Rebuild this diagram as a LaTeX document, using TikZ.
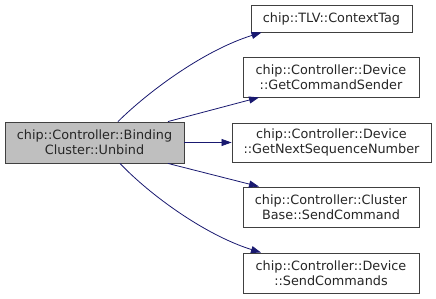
\documentclass[tikz,border=0pt]{standalone}
\usepackage{fontspec}
\setmainfont{DejaVu Sans}
\usetikzlibrary{arrows.meta}
\definecolor{edgeblue}{HTML}{191970}
\definecolor{boxgrey}{HTML}{BFBFBF}
\definecolor{boxline}{HTML}{404040}
\tikzset{
  fn/.style={draw=boxline, line width=0.9pt, fill=white, align=center, inner sep=0pt,
    font=\fontsize{12.8}{15}\selectfont, text=black!85},
  focus/.style={fn, fill=boxgrey},
  call/.style={draw=edgeblue, line width=0.8pt,
    -{Triangle[length=10pt, width=7pt, fill=edgeblue]}},
}
\begin{document}
\begin{tikzpicture}[x=1pt, y=-1pt]
\useasboundingbox (0,0) rectangle (436,299);
% caller
\node[focus, minimum width=179pt, minimum height=41pt] (main) at (94.5,142.5)
  {chip::Controller::Binding\\Cluster::Unbind};
% callees
\node[fn, minimum width=161pt, minimum height=27pt] (n1) at (331.5,18.5) {chip::TLV::ContextTag};
\node[fn, minimum width=176pt, minimum height=40pt] (n2) at (331,77)
  {chip::Controller::Device\\::GetCommandSender};
\node[fn, minimum width=199pt, minimum height=39pt] (n3) at (331.5,142.5)
  {chip::Controller::Device\\::GetNextSequenceNumber};
\node[fn, minimum width=176pt, minimum height=40pt] (n4) at (331,207)
  {chip::Controller::Cluster\\Base::SendCommand};
\node[fn, minimum width=176pt, minimum height=40pt] (n5) at (331,273)
  {chip::Controller::Device\\::SendCommands};
% calls
\draw[call] ([xshift=23.5pt]main.north) .. controls (150,90) and (205,50) .. ([xshift=-70pt]n1.south);
\draw[call] ([xshift=73.5pt]main.north) -- ([xshift=-72pt]n2.south);
\draw[call] (main.east) -- (n3.west);
\draw[call] ([xshift=73.5pt]main.south) -- ([xshift=-72pt]n4.north);
\draw[call] ([xshift=25.5pt]main.south) .. controls (150,195) and (205,235) .. ([xshift=-70pt]n5.north);
\end{tikzpicture}
\end{document}
